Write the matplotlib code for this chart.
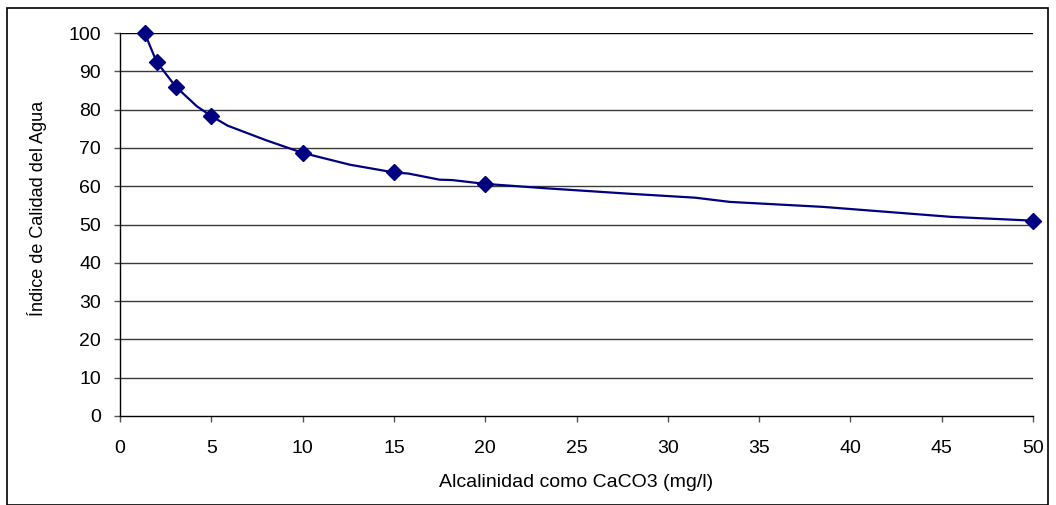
import matplotlib
matplotlib.use("Agg")
import matplotlib.pyplot as plt
from matplotlib.patches import Rectangle

plt.rcParams['font.family'] = ['Liberation Sans', 'DejaVu Sans']

# Marker points
marker_x = [1.35, 2.0, 3.05, 5.0, 10.0, 15.0, 20.0, 50.0]
marker_y = [100.0, 92.5, 86.0, 78.3, 68.7, 63.6, 60.6, 51.0]

# Curve drawn through the points
line_x = [1.35, 2.0, 3.05, 4.2, 5.0, 5.9, 8.0, 10.0, 12.6, 15.0, 15.8, 17.5, 18.2, 20.0,
          23.5, 28.0, 31.5, 33.4, 38.5, 42.0, 45.5, 50.0]
line_y = [100.0, 92.5, 86.0, 80.9, 78.3, 75.8, 72.0, 68.7, 65.6, 63.6, 63.3, 61.7, 61.6, 60.6,
          59.4, 58.0, 57.0, 55.9, 54.6, 53.3, 52.0, 51.0]

x_ticks = [0, 5, 10, 15, 20, 25, 30, 35, 40, 45, 50]
y_ticks = [0, 10, 20, 30, 40, 50, 60, 70, 80, 90, 100]

W, H = 1056, 505
fig = plt.figure(figsize=(W / 100, H / 100), dpi=100)
ax = fig.add_axes([120 / W, (H - 416) / H, (1033 - 120) / W, (416 - 33) / H])

for yv in y_ticks[1:]:
    ax.axhline(yv, color='#000000' if yv == 100 else '#3a3a3a', lw=1.0, zorder=1)

color = '#000080'
ax.plot(line_x, line_y, color=color, lw=1.6, zorder=3, clip_on=False)
ax.plot(marker_x, marker_y, linestyle='none', marker='D', ms=8.3, color=color,
        zorder=4, clip_on=False)

ax.set_xlim(0, 50)
ax.set_ylim(0, 100)
ax.set_xticks(x_ticks)
ax.set_yticks(y_ticks)
ax.tick_params(axis='both', labelsize=14, direction='out', length=4.5, width=1,
               color='#555555')
ax.tick_params(axis='x', pad=13)
ax.tick_params(axis='y', pad=9)

for s in ['top', 'right']:
    ax.spines[s].set_visible(False)
for s in ['left', 'bottom']:
    ax.spines[s].set_color('black')
    ax.spines[s].set_linewidth(1.0)

ax.set_xlabel('Alcalinidad como CaCO3 (mg/l)', fontsize=14, labelpad=12)
ax.set_ylabel('Índice de Calidad del Agua', fontsize=13)
ax.yaxis.set_label_coords(-(120 - 47) / (1033 - 120), (416 - 208) / (416 - 33))

fig.patches.append(Rectangle((7 / W, 0.5 / H), (1048 - 7) / W, (H - 8.5) / H,
                             transform=fig.transFigure, fill=False,
                             edgecolor='black', lw=1.2))

fig.savefig('out.png', dpi=100)
